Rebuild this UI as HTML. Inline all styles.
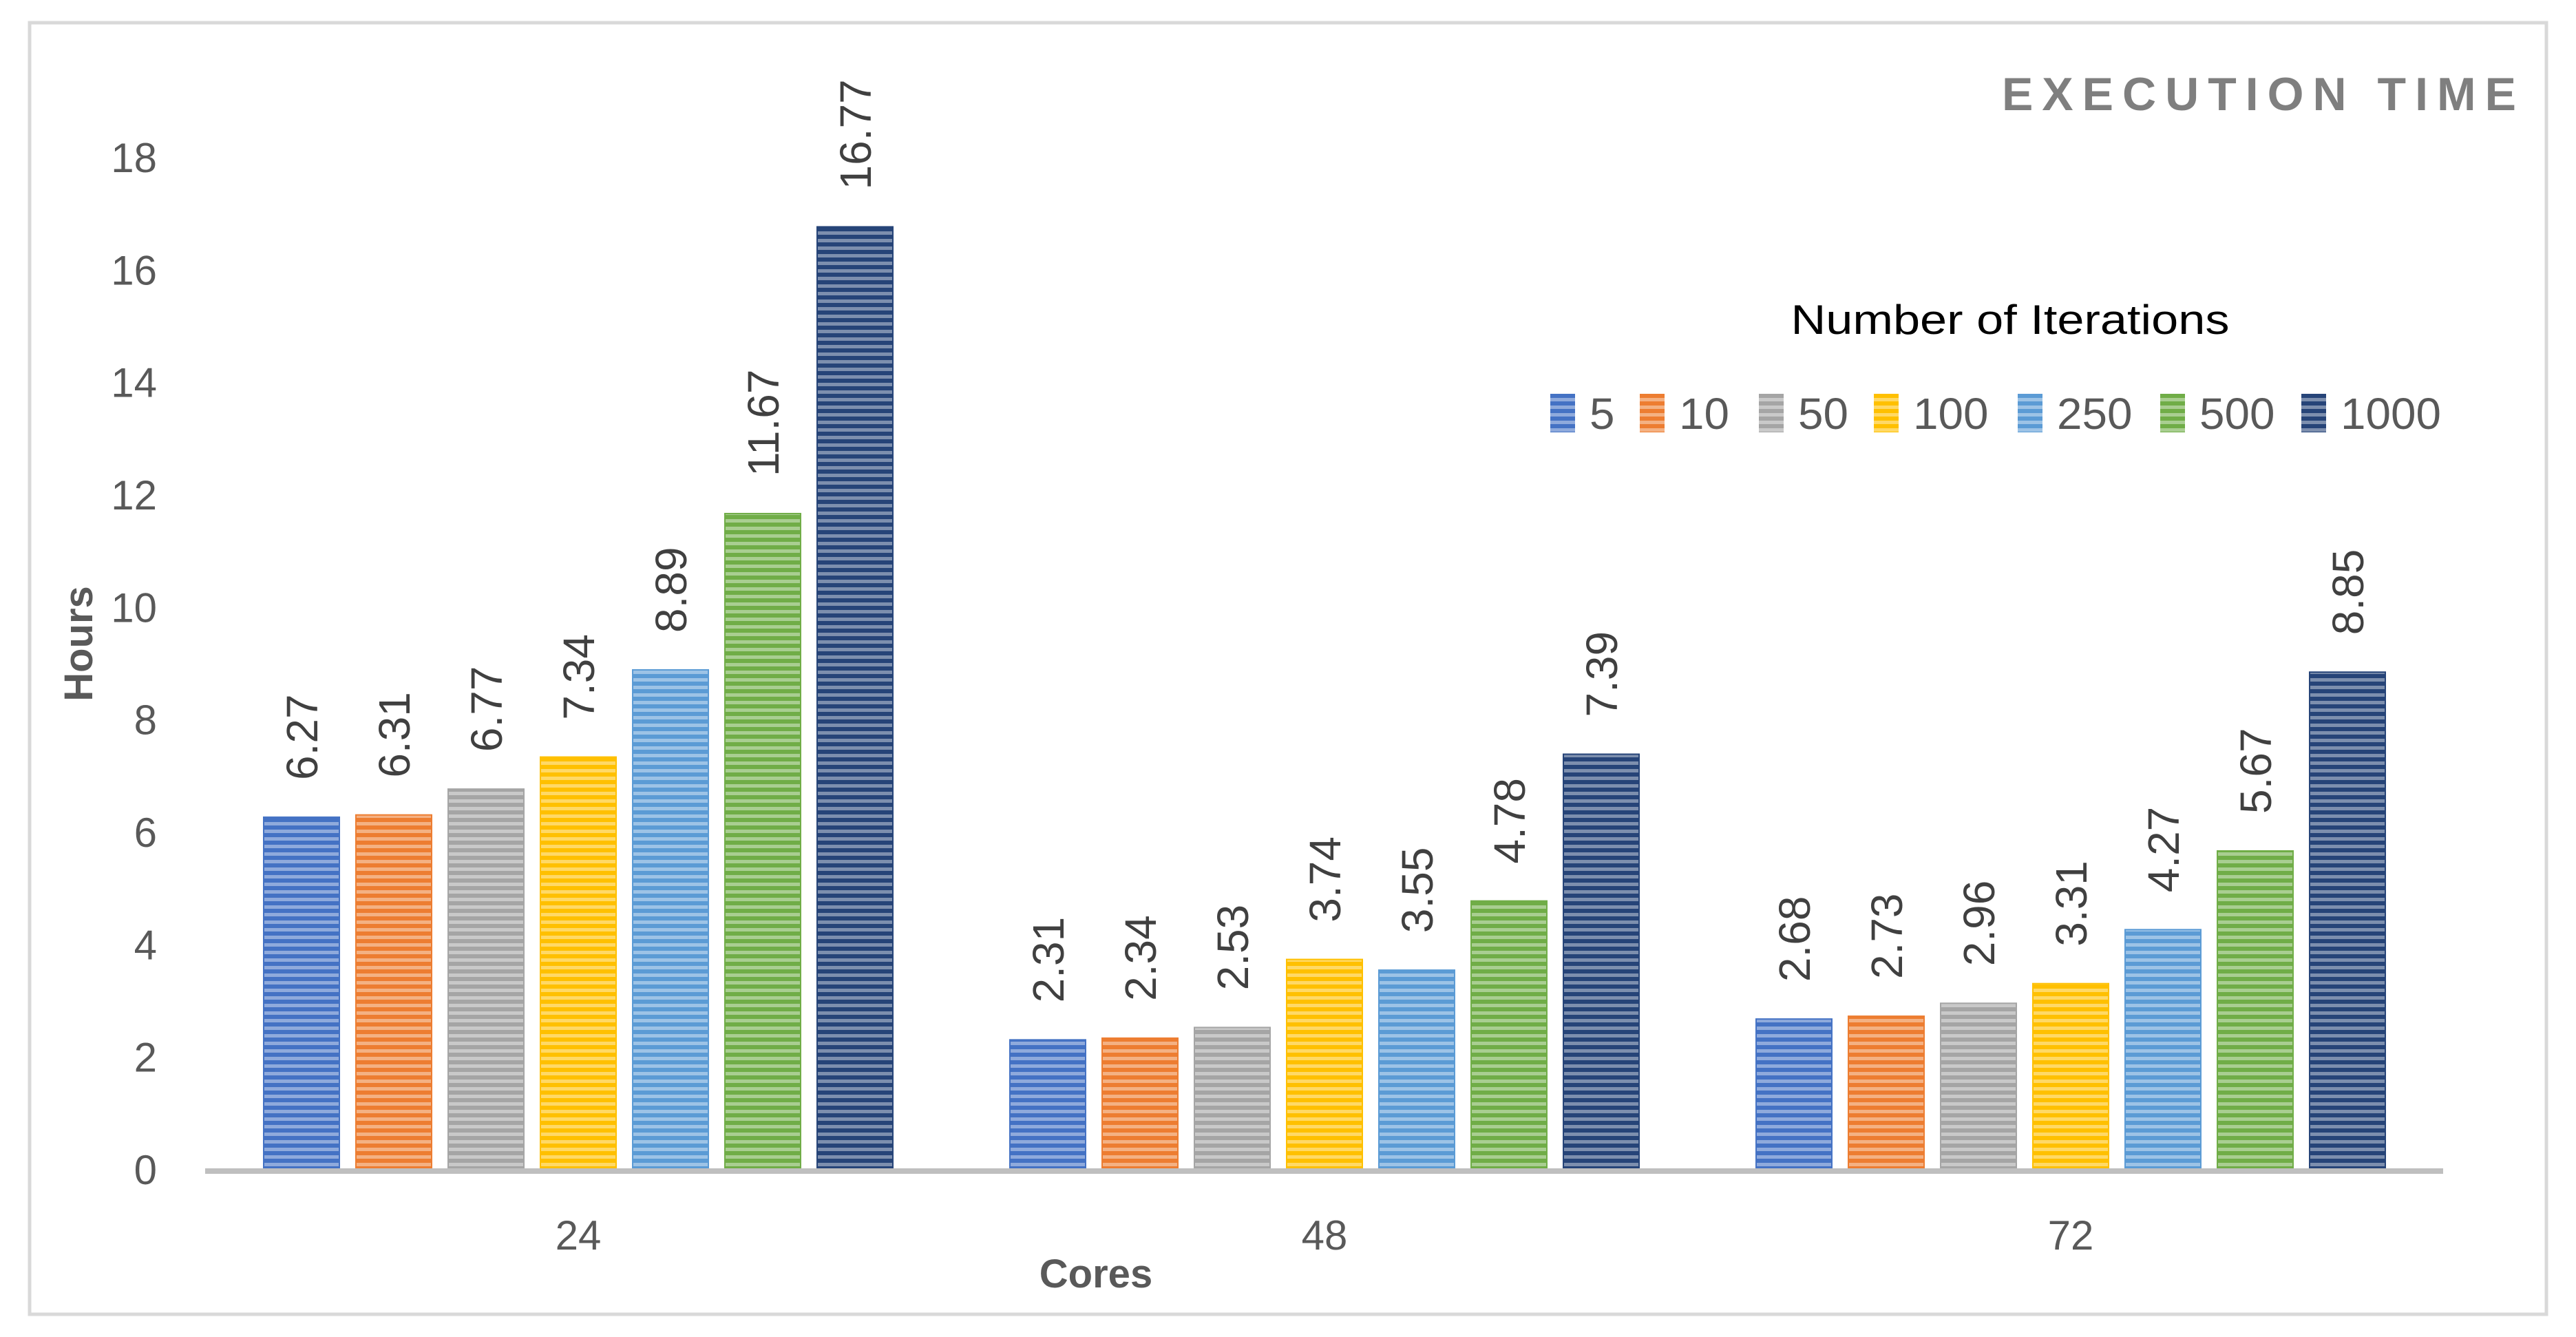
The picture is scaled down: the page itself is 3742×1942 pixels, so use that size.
<!DOCTYPE html>
<html><head><meta charset="utf-8"><style>
html,body{margin:0;padding:0;background:#fff}
svg{display:block;font-family:"Liberation Sans",sans-serif}
</style></head><body>
<svg id="chart" width="3742" height="1942" viewBox="0 0 3742 1942">
<defs id="defs"></defs>
<rect x="43" y="33" width="3656" height="1876" fill="#fff" stroke="#d9d9d9" stroke-width="5"/>
<text x="3668" y="160" text-anchor="end" font-size="68" font-weight="bold" fill="#7f7f7f" letter-spacing="13">EXECUTION TIME</text>
<text x="2920" y="485" text-anchor="middle" font-size="60" fill="#000" textLength="637" lengthAdjust="spacingAndGlyphs">Number of Iterations</text>
<text transform="translate(134,935) rotate(-90)" text-anchor="middle" font-size="58" font-weight="bold" fill="#595959">Hours</text>
<text x="1592" y="1870" text-anchor="middle" font-size="58" font-weight="bold" fill="#595959">Cores</text>
<g id="yticks"></g><g id="bars"></g><g id="labels"></g><g id="legend"></g><g id="xlabels"></g>
<line x1="298" y1="1701" x2="3549" y2="1701" stroke="#bfbfbf" stroke-width="8"/>
</svg>
<script>
const categories = ["24","48","72"];
const seriesNames = ["5","10","50","100","250","500","1000"];
const s5 = [6.27,2.31,2.68];
const s10 = [6.31,2.34,2.73];
const s50 = [6.77,2.53,2.96];
const s100 = [7.34,3.74,3.31];
const s250 = [8.89,3.55,4.27];
const s500 = [11.67,4.78,5.67];
const s1000 = [16.77,7.39,8.85];
const yTicks = [0,2,4,6,8,10,12,14,16,18];
const colors = ["#4472C4","#ED7D31","#A5A5A5","#FFC000","#5B9BD5","#70AD47","#264478"];
const series = [s5,s10,s50,s100,s250,s500,s1000];

const NS="http://www.w3.org/2000/svg";
const y0=1699, pxPerUnit=(1699-229)/18;
function yScale(v){return y0-v*pxPerUnit;}
const groupStart=298, groupW=1084;
function xGroup(i){return groupStart+groupW*(i+0.5);}
const barW=110, step=134;
function xBar(g,s){return xGroup(g)+(s-(series.length-1)/2)*step-barW/2;}
function mk(t,a,p){const e=document.createElementNS(NS,t);for(const k in a)e.setAttribute(k,a[k]);(p||document.getElementById('chart')).appendChild(e);return e;}

const defs=document.getElementById('defs');
colors.forEach((c,i)=>{
  const p=mk('pattern',{id:'pat'+i,width:20,height:11,patternUnits:'userSpaceOnUse'},defs);
  mk('rect',{x:0,y:0,width:20,height:11,fill:c},p);
  mk('rect',{x:0,y:6,width:20,height:5,fill:'#fff','fill-opacity':0.4},p);
});

const yt=document.getElementById('yticks');
yTicks.forEach(t=>{
  const e=mk('text',{x:228,y:yScale(t)+21,'text-anchor':'end','font-size':60,fill:'#595959'},yt);
  e.textContent=t;
  
  
});

const bg=document.getElementById('bars'), lg=document.getElementById('labels');
series.forEach((vals,s)=>{
  vals.forEach((v,g)=>{
    const x=xBar(g,s), y=yScale(v);
    const r=mk('rect',{x:x,y:y,width:barW,height:y0-y,fill:'url(#pat'+s+')',stroke:colors[s],'stroke-width':2},bg);
    
    
    const cx=x+barW/2+23, ty=y-54;
    const t=mk('text',{transform:'translate('+cx+','+ty+') rotate(-90)','font-size':64,fill:'#404040'},lg);
    t.textContent=v.toFixed(2);
    
    
  });
});

const xl=document.getElementById('xlabels');
categories.forEach((c,g)=>{
  const t=mk('text',{x:xGroup(g),y:1815,'text-anchor':'middle','font-size':60,fill:'#595959'},xl);
  t.textContent=c;
  
  
});

const legX=[2252,2382,2555,2722,2931,3138,3343];
const lgG=document.getElementById('legend');
seriesNames.forEach((n,s)=>{
  const g=mk('g',{},lgG);
  
  
  mk('rect',{x:legX[s],y:572,width:36,height:56,fill:'url(#pat'+s+')'},g);
  const t=mk('text',{x:legX[s]+57,y:623,'font-size':64,fill:'#595959',textLength:n.length*36.5,lengthAdjust:'spacingAndGlyphs'},g);
  t.textContent=n;
});
</script>
</body></html>
